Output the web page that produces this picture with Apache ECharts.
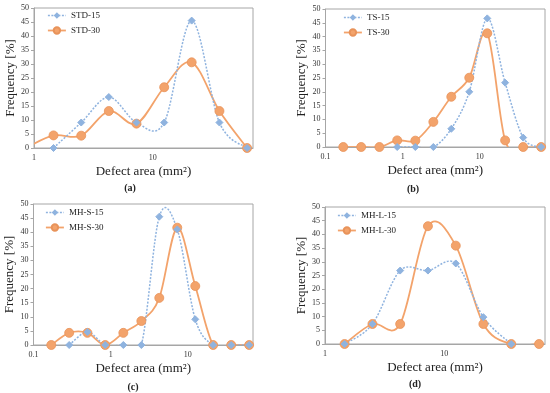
<!DOCTYPE html>
<html>
<head>
<meta charset="utf-8">
<script src="https://cdn.jsdelivr.net/npm/echarts@6/dist/echarts.min.js"></script>
<style>
html,body{margin:0;padding:0;background:#fff;}
#chart{width:550px;height:393px;}
</style>
</head>
<body>
<div id="chart"></div>
<script>
// Bin centres of defect area (mm2), shared by all panels
const bins = [0.17, 0.29, 0.5, 0.85, 1.46, 2.5, 4.27, 7.3, 12.5, 21.3, 36.5, 62.4];
// Frequency [%] per bin (null = no point)
const std15 = [null, null, null, null, 0, 9.1, 18.2, 9.1, 9.1, 45.5, 9.1, 0];
const std30 = [null, null, null, 0, 4.5, 4.4, 13.2, 8.7, 21.7, 30.6, 13.2, 0];
const ts15  = [null, null, null, 0, 0, 0, 6.6, 20.0, 46.6, 23.3, 3.4, 0];
const ts30  = [0, 0, 0, 2.4, 2.3, 9.1, 18.2, 25.1, 41.2, 2.4, 0, 0];
const mhs15 = [null, 0, 4.6, 0, 0, 0, 45.5, 41.0, 9.1, 0, 0, 0];
const mhs30 = [0, 4.3, 4.3, 0, 4.3, 8.5, 16.7, 41.6, 20.9, 0, 0, 0];
const mhl15 = [null, null, null, null, 0, 7.3, 26.8, 26.8, 29.4, 9.8, 0, null];
const mhl30 = [null, null, null, null, 0, 7.3, 7.3, 43.0, 35.9, 7.3, 0, 0];

const seriesNames = [['STD-15', 'STD-30'], ['TS-15', 'TS-30'], ['MH-S-15', 'MH-S-30'], ['MH-L-15', 'MH-L-30']];
const seriesValues = [[std15, std30], [ts15, ts30], [mhs15, mhs30], [mhl15, mhl30]];
const panelLabels = ['(a)', '(b)', '(c)', '(d)'];
const xMins = [1, 0.1, 0.1, 1];
const xMax = 70;
const xTickLabels = [[1, 10], [0.1, 1, 10], [0.1, 1, 10], [1, 10]];
const yTicks = [0, 5, 10, 15, 20, 25, 30, 35, 40, 45, 50];

const FONT = '"Liberation Serif", "Times New Roman", serif';
const BLUE = '#8fb3df';
const ORANGE = '#f3a36b';
const BLUE_LINE = {color: BLUE, width: 1.5, type: [2, 1.5], opacity: 1};
const ORANGE_LINE = {color: ORANGE, width: 1.8, type: 'solid', opacity: 1};

const grids = [
  {left: 34, top: 8, width: 219, height: 140},
  {left: 325.5, top: 9, width: 219.5, height: 138},
  {left: 33.5, top: 204, width: 219.5, height: 141},
  {left: 325, top: 207, width: 220, height: 137}
];
const legendPos = [
  {left: 47, top: 11},
  {left: 343, top: 13},
  {left: 45, top: 208},
  {left: 337, top: 211}
];
const labelPos = [[130, 188], [413, 189], [133, 387], [415, 384]];

function toPairs(vals) {
  const out = [];
  vals.forEach((v, i) => { if (v !== null) out.push([bins[i], v]); });
  return out;
}

// Smoothed (Catmull-Rom style) curve through the data, positioned by the axes via api.coord
function splineSeries(pairs, axisIdx, line, z) {
  return {
    type: 'custom', xAxisIndex: axisIdx, yAxisIndex: axisIdx, clip: true, z: z, silent: true,
    data: pairs, encode: {x: 0, y: 1},
    renderItem: function (params, api) {
      const i = params.dataIndex;
      const n = pairs.length;
      if (i >= n - 1) return null;
      const P = k => api.coord(pairs[Math.max(0, Math.min(n - 1, k))]);
      const p0 = P(i - 1), p1 = P(i), p2 = P(i + 1), p3 = P(i + 2);
      const t = 1 / 6;
      return {
        type: 'bezierCurve',
        shape: {
          x1: p1[0], y1: p1[1], x2: p2[0], y2: p2[1],
          cpx1: p1[0] + (p2[0] - p0[0]) * t, cpy1: p1[1] + (p2[1] - p0[1]) * t,
          cpx2: p2[0] - (p3[0] - p1[0]) * t, cpy2: p2[1] - (p3[1] - p1[1]) * t
        },
        style: {
          fill: null, stroke: line.color, lineWidth: line.width,
          lineDash: Array.isArray(line.type) ? line.type : null
        }
      };
    }
  };
}

const option = {
  animation: false,
  backgroundColor: '#fff',
  grid: grids.map(g => Object.assign({show: true, borderColor: '#a6a6a6', borderWidth: 1, backgroundColor: 'transparent'}, g)),
  xAxis: grids.map((g, i) => ({
    type: 'log', logBase: 10, gridIndex: i, min: xMins[i], max: xMax,
    name: 'Defect area (mm²)', nameLocation: 'middle', nameGap: 17,
    nameTextStyle: {fontFamily: FONT, fontSize: 13, color: '#222'},
    axisLine: {show: true, lineStyle: {color: '#a6a6a6'}},
    axisTick: {show: false},
    splitLine: {show: false},
    minorTick: {show: false},
    axisLabel: {
      fontFamily: FONT, fontSize: 8, color: '#333', margin: 6,
      showMaxLabel: false,
      formatter: function (v) {
        const hit = xTickLabels[i].find(t => Math.abs(Math.log10(v) - Math.log10(t)) < 1e-6);
        return hit !== undefined ? String(hit) : '';
      }
    }
  })),
  yAxis: grids.map((g, i) => ({
    type: 'value', gridIndex: i, min: yTicks[0], max: yTicks[yTicks.length - 1], interval: yTicks[1] - yTicks[0],
    name: 'Frequency [%]', nameLocation: 'middle', nameGap: 17,
    nameTextStyle: {fontFamily: FONT, fontSize: 13, color: '#222'},
    axisLine: {show: true, lineStyle: {color: '#a6a6a6'}},
    axisTick: {show: true, length: 3, lineStyle: {color: '#a6a6a6'}},
    splitLine: {show: false},
    axisLabel: {fontFamily: FONT, fontSize: 8, color: '#333', margin: 5}
  })),
  legend: grids.map((g, i) => Object.assign({
    orient: 'vertical',
    data: [
      {name: seriesNames[i][0], lineStyle: BLUE_LINE},
      {name: seriesNames[i][1], lineStyle: ORANGE_LINE}
    ],
    itemWidth: 18, itemHeight: 8, itemGap: 6,
    textStyle: {fontFamily: FONT, fontSize: 9, color: '#222'}, padding: 0
  }, legendPos[i])),
  title: panelLabels.map((t, i) => ({
    text: t, left: labelPos[i][0], top: labelPos[i][1], textAlign: 'center', textVerticalAlign: 'middle',
    textStyle: {fontFamily: FONT, fontSize: 10, fontWeight: 'bold', color: '#222'}, padding: 0
  })),
  series: []
};

seriesValues.forEach((pair, i) => {
  const d15 = toPairs(pair[0]);
  const d30 = toPairs(pair[1]);
  option.series.push({
    name: seriesNames[i][0], type: 'line', xAxisIndex: i, yAxisIndex: i,
    data: d15, clip: true, z: 4,
    symbol: 'diamond', symbolSize: 7,
    lineStyle: Object.assign({}, BLUE_LINE, {opacity: 0}),
    itemStyle: {color: BLUE, borderColor: BLUE}
  });
  option.series.push({
    name: seriesNames[i][1], type: 'line', xAxisIndex: i, yAxisIndex: i,
    data: d30, clip: true, z: 3,
    symbol: 'circle', symbolSize: 9,
    lineStyle: Object.assign({}, ORANGE_LINE, {opacity: 0}),
    itemStyle: {color: ORANGE, borderColor: '#e8935a', borderWidth: 0.8}
  });
  option.series.push(splineSeries(d15, i, BLUE_LINE, 3));
  option.series.push(splineSeries(d30, i, ORANGE_LINE, 2));
});

const chart = echarts.init(document.getElementById('chart'), null, {renderer: 'canvas'});
chart.setOption(option);
</script>
</body>
</html>
